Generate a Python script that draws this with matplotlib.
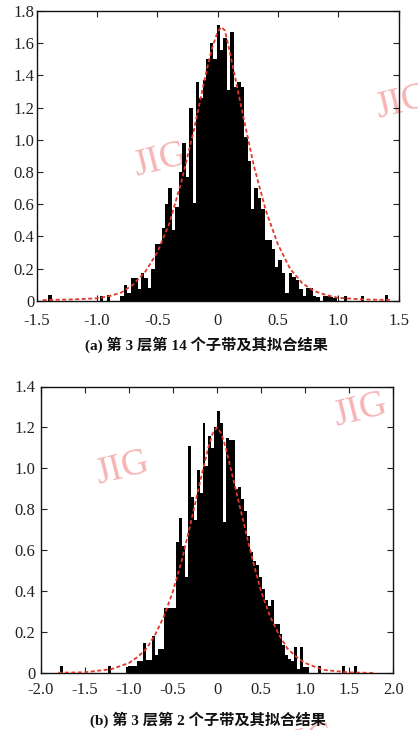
import numpy as np
import matplotlib
matplotlib.use('Agg')
import matplotlib.pyplot as plt

# (a) level 3, subband 14
a_bin_start = -1.405
a_bin_width = 0.0285
a_heights = [
    0.035, 0, 0, 0, 0, 0, 0, 0, 0, 0,
    0, 0, 0, 0, 0, 0.03, 0, 0.035, 0, 0,
    0, 0.03, 0.10, 0.045, 0.14, 0.14, 0.07, 0.17, 0.14, 0.08,
    0.20, 0.35, 0.35, 0.45, 0.60, 0.70, 0.44, 0.58, 0.80, 0.98,
    0.77, 1.20, 0.61, 1.36, 1.26, 1.37, 1.50, 1.60, 1.50, 1.71,
    1.56, 1.63, 1.31, 1.67, 1.33, 1.36, 1.33, 1.02, 0.87, 0.57,
    0.70, 0.64, 0.57, 0.38, 0.38, 0.32, 0.21, 0.25, 0.17, 0.05,
    0.17, 0.15, 0.13, 0.07, 0.03, 0.08, 0.08, 0.03, 0.02, 0,
    0.03, 0.03, 0.02, 0.015, 0, 0, 0.03, 0, 0, 0,
    0, 0.03, 0, 0, 0, 0, 0, 0, 0.035, 0,
]
a_fit_x = [-1.45, -1.2, -1.0, -0.9, -0.8, -0.7, -0.6, -0.5, -0.4, -0.3, -0.2,
           -0.1, -0.05, 0.0, 0.03, 0.06, 0.1, 0.15, 0.2, 0.3, 0.4, 0.5, 0.6,
           0.7, 0.8, 0.9, 1.0, 1.2, 1.45]
a_fit_y = [0.004, 0.008, 0.015, 0.028, 0.05, 0.10, 0.18, 0.30, 0.48, 0.74, 1.05,
           1.40, 1.56, 1.67, 1.70, 1.68, 1.55, 1.37, 1.19, 0.84, 0.56, 0.35, 0.20,
           0.11, 0.06, 0.035, 0.018, 0.008, 0.004]
a_xticks = [-1.5, -1.0, -0.5, 0, 0.5, 1.0, 1.5]
a_xticklabels = ['-1.5', '-1.0', '-0.5', '0', '0.5', '1.0', '1.5']
a_yticks = [0, 0.2, 0.4, 0.6, 0.8, 1.0, 1.2, 1.4, 1.6, 1.8]
a_yticklabels = ['0', '0.2', '0.4', '0.6', '0.8', '1.0', '1.2', '1.4', '1.6', '1.8']
a_caption = '(a) 第 3 层第 14 个子带及其拟合结果'

# (b) level 3, subband 2
b_bin_start = -1.777
b_bin_width = 0.0336
b_heights = [
    0.036, 0, 0, 0, 0, 0, 0, 0, 0, 0,
    0, 0, 0, 0, 0, 0, 0.036, 0, 0, 0,
    0, 0, 0.03, 0.035, 0.035, 0.035, 0.06, 0.06, 0.146, 0.065,
    0.065, 0.18, 0.09, 0.12, 0.12, 0.32, 0.32, 0.32, 0.32, 0.64,
    0.76, 0.62, 0.47, 1.11, 0.86, 0.75, 0.99, 0.88, 1.22, 1.01,
    1.16, 1.10, 1.20, 1.28, 1.22, 0.74, 1.15, 1.14, 1.14, 0.90,
    0.91, 0.85, 0.79, 0.67, 0.59, 0.55, 0.53, 0.47, 0.41, 0.36,
    0.33, 0.36, 0.24, 0.24, 0.19, 0.14, 0.09, 0.07, 0.06, 0.13,
    0.02, 0.13, 0.03, 0.03, 0, 0, 0, 0.036, 0, 0,
    0, 0, 0, 0, 0, 0.036, 0, 0, 0, 0.036,
]
b_fit_x = [-1.8, -1.5, -1.2, -1.0, -0.9, -0.8, -0.7, -0.6, -0.5, -0.4, -0.3,
           -0.2, -0.1, -0.05, 0.0, 0.05, 0.1, 0.2, 0.3, 0.4, 0.5, 0.6, 0.7,
           0.8, 0.9, 1.0, 1.2, 1.5, 1.8]
b_fit_y = [0.003, 0.005, 0.02, 0.05, 0.08, 0.12, 0.19, 0.28, 0.40, 0.55, 0.73,
           0.92, 1.10, 1.17, 1.20, 1.17, 1.10, 0.92, 0.74, 0.56, 0.40, 0.28, 0.19,
           0.12, 0.08, 0.05, 0.017, 0.004, 0.002]
b_xticks = [-2.0, -1.5, -1.0, -0.5, 0, 0.5, 1.0, 1.5, 2.0]
b_xticklabels = ['-2.0', '-1.5', '-1.0', '-0.5', '0', '0.5', '1.0', '1.5', '2.0']
b_yticks = [0, 0.2, 0.4, 0.6, 0.8, 1.0, 1.2, 1.4]
b_yticklabels = ['0', '0.2', '0.4', '0.6', '0.8', '1.0', '1.2', '1.4']
b_caption = '(b) 第 3 层第 2 个子带及其拟合结果'

# watermark positions in figure pixels (x, y from top)
marks = [(160, 160), (402, 102), (122, 468), (360, 410), (308, 742)]

SERIF = ['Liberation Serif', 'DejaVu Serif']
CAPTION_FONT = ['Liberation Serif', 'Noto Sans CJK SC']
W, H = 418, 730


def draw_panel(ax, start, width, heights, fit_x, fit_y, xticks, xlabels, yticks, ylabels,
               xpad, ypad):
    centers = start + width * (np.arange(len(heights)) + 0.5)
    ax.bar(centers, heights, width=width, color='black', linewidth=0, zorder=2)
    ax.plot(fit_x, fit_y, color='#e0392b', linestyle=(0, (2.2, 1.4)), linewidth=1.3, zorder=3)
    ax.set_xlim(xticks[0], xticks[-1])
    ax.set_ylim(yticks[0], yticks[-1])
    ax.set_xticks(xticks)
    ax.set_xticklabels(xlabels)
    ax.set_yticks(yticks)
    ax.set_yticklabels(ylabels)
    ax.tick_params(direction='in', length=4, width=0.8, top=True, right=True,
                   labelsize=12, colors='#222222')
    ax.tick_params(axis='x', pad=xpad)
    ax.tick_params(axis='y', pad=ypad)
    for lab in ax.get_xticklabels() + ax.get_yticklabels():
        lab.set_family(SERIF)
    for s in ax.spines.values():
        s.set_linewidth(1.0)
        s.set_color('#111111')
    ax.patch.set_alpha(0)


fig = plt.figure(figsize=(W / 100, H / 100), dpi=100)

ax1 = fig.add_axes([36.7 / W, 1 - 300.7 / H, (398.5 - 36.7) / W, (300.7 - 11) / H])
draw_panel(ax1, a_bin_start, a_bin_width, a_heights, a_fit_x, a_fit_y,
           a_xticks, a_xticklabels, a_yticks, a_yticklabels, xpad=9, ypad=1.5)

ax2 = fig.add_axes([40.7 / W, 1 - 673.3 / H, (393.3 - 40.7) / W, (673.3 - 386.5) / H])
draw_panel(ax2, b_bin_start, b_bin_width, b_heights, b_fit_x, b_fit_y,
           b_xticks, b_xticklabels, b_yticks, b_yticklabels, xpad=6.5, ypad=4)

fig.text(206 / W, 1 - 345 / H, a_caption, ha='center', va='center', fontsize=11,
         fontweight='bold', family=CAPTION_FONT, color='#111111')
fig.text(208 / W, 1 - 720 / H, b_caption, ha='center', va='center', fontsize=11,
         fontweight='bold', family=CAPTION_FONT, color='#111111')

for mx, my in marks:
    fig.text(mx / W, 1 - my / H, 'JIG', ha='center', va='center', fontsize=27,
             family=SERIF, color='#f6b4b4', rotation=14, zorder=-1)

fig.savefig('out.png', dpi=100)
